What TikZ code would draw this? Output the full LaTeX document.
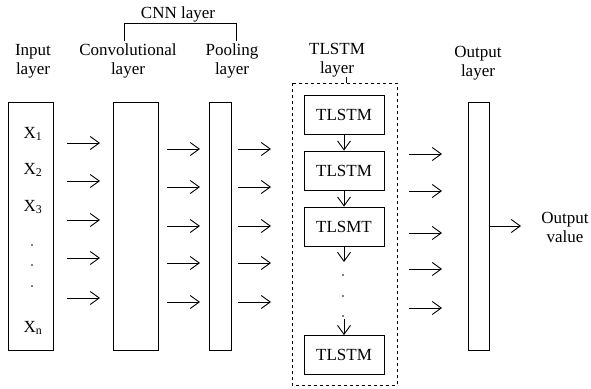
\documentclass[tikz,border=0pt]{standalone}
\usepackage{fontspec}
\setmainfont{Liberation Serif}
\usetikzlibrary{arrows.meta}
\begin{document}
\begin{tikzpicture}[x=1pt,y=-1pt,
  every node/.style={font=\fontsize{17}{19}\selectfont, inner sep=0pt},
  layerbox/.style={draw, line width=0.8pt, minimum width=#1, minimum height=248pt},
  cellbox/.style={draw, line width=0.8pt, minimum width=80pt, minimum height=39pt},
  lbl/.style={align=center},
  arr/.style={line width=0.9pt, -{Straight Barb[length=9pt,width=13pt]}},
  dot/.style={fill, circle, minimum size=2pt}]
\useasboundingbox (0,0) rectangle (591,388);

% layer boxes
\node[layerbox=45pt] (in) at (30.5,226) {};
\node[layerbox=45pt] (conv) at (135.5,226) {};
\node[layerbox=22pt] (pool) at (220,226) {};
\node[layerbox=21pt] (out) at (478.5,226) {};

% layer titles
\node[lbl] (tin) at (33,61) {Input\\layer};
\node[lbl] (tconv) at (128,61) {Convolutional\\layer};
\node[lbl] (tpool) at (232,61) {Pooling\\layer};
\node[lbl] (ttl) at (337,60) {TLSTM\\layer};
\node[lbl] (tout) at (478,63) {Output\\layer};
\node[lbl] (tval) at (565,227) {Output\\value};
\node (tcnn) at (178,14) {CNN layer};
\draw[line width=0.8pt] (124,41) -- (124,23) -- (236,23) -- (236,41);

% inputs
\node (x1) at (33,134) {X\textsubscript{1}};
\node (x2) at (33,170) {X\textsubscript{2}};
\node (x3) at (33,207) {X\textsubscript{3}};
\node (xn) at (33,328) {X\textsubscript{n}};
\foreach \y in {245,265,286} \node[dot, minimum size=1.8pt] at (32,\y) {};

% arrows between layers
\foreach \y in {143,181,220,258,298} \draw[arr] (67,\y) -- (100,\y);
\foreach \y in {149,187,226,263,302} {
  \draw[arr] (167,\y) -- (200,\y);
  \draw[arr] (238,\y) -- (271,\y);
}
\foreach \y in {154,191,233,269,308} \draw[arr] (409,\y) -- (442,\y);

% TLSTM stack
\draw[dashed, line width=0.8pt] (292,83) rectangle (397,385);
\draw[line width=0.8pt] (346,77) -- (346,83);
\node[cellbox] (c1) at (344,114.5) {TLSTM};
\node[cellbox] (c2) at (344,170.5) {TLSTM};
\node[cellbox] (c3) at (344,226.5) {TLSMT};
\node[cellbox] (c4) at (344,355) {TLSTM};
\draw[arr] (c1.south) -- (c2.north);
\draw[arr] (c2.south) -- (c3.north);
\coordinate (c3end) at (344,262);
\draw[arr] (c3.south) -- (c3end);
\foreach \y in {275,296,316} \node[dot, minimum size=1.8pt] at (343,\y) {};
\coordinate (c4start) at (344,319);
\draw[arr] (c4start) -- (c4.north);

% output
\coordinate (oend) at (521,226);
\draw[arr] (out.east) -- (oend);
\end{tikzpicture}
\end{document}
